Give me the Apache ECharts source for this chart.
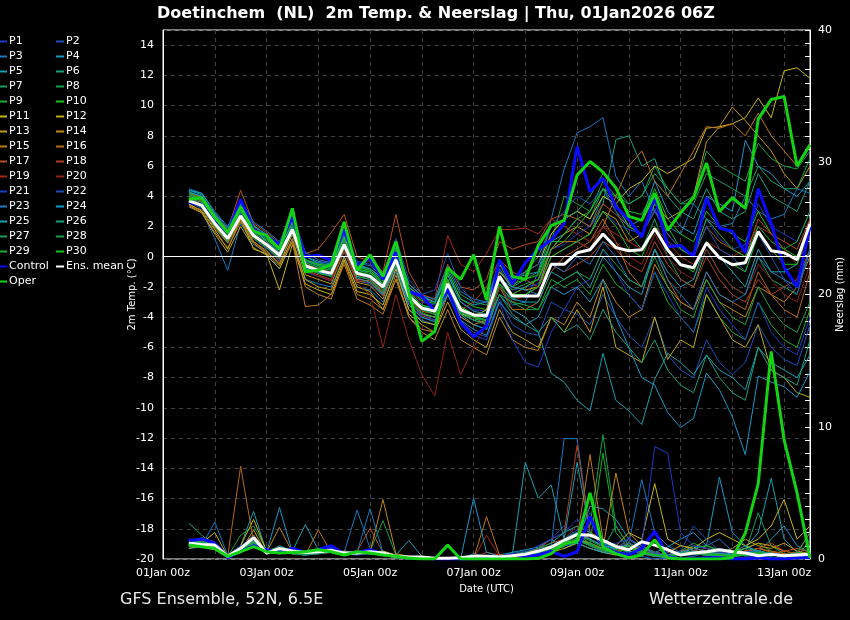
<!DOCTYPE html>
<html><head><meta charset="utf-8">
<script src="https://cdn.jsdelivr.net/npm/echarts@6/dist/echarts.min.js"></script>
<style>html,body{margin:0;padding:0;background:#000;}#c{width:850px;height:620px;}</style>
</head><body><div id="c"></div>
<script>
const times = ['01Jan 00z','01Jan 06z','01Jan 12z','01Jan 18z','02Jan 00z','02Jan 06z','02Jan 12z','02Jan 18z','03Jan 00z','03Jan 06z','03Jan 12z','03Jan 18z','04Jan 00z','04Jan 06z','04Jan 12z','04Jan 18z','05Jan 00z','05Jan 06z','05Jan 12z','05Jan 18z','06Jan 00z','06Jan 06z','06Jan 12z','06Jan 18z','07Jan 00z','07Jan 06z','07Jan 12z','07Jan 18z','08Jan 00z','08Jan 06z','08Jan 12z','08Jan 18z','09Jan 00z','09Jan 06z','09Jan 12z','09Jan 18z','10Jan 00z','10Jan 06z','10Jan 12z','10Jan 18z','11Jan 00z','11Jan 06z','11Jan 12z','11Jan 18z','12Jan 00z','12Jan 06z','12Jan 12z','12Jan 18z','13Jan 00z','13Jan 06z','13Jan 12z'];
const memberNames = ['P1','P2','P3','P4','P5','P6','P7','P8','P9','P10','P11','P12','P13','P14','P15','P16','P17','P18','P19','P20','P21','P22','P23','P24','P25','P26','P27','P28','P29','P30'];
const memberColors = ['#1c3cc8','#1a50b8','#1878c0','#1898c8','#18a0b0','#18a080','#18a060','#18a048','#18b030','#18c018','#c8b818','#c0a818','#c09818','#c08818','#c07818','#b86818','#b85018','#b04020','#a82818','#902018','#1c3cc8','#1a50b8','#1878c0','#1898c8','#18a0b0','#18a080','#18a060','#18a048','#18b030','#18c018'];

// 2m temperature (°C), 6-hourly from 01Jan 12z to 13Jan 12z
const tControl = [3.6,3.4,2.4,1.6,3.8,1.8,1.35,0.8,2.6,0.0,0.1,-0.25,1.8,-0.6, -0.1,-1.5,0.3,-2.3,-2.6,-3.6,-2.1,-4.4,-5.3,-4.6,-0.2,-1.8,-0.4,0.5,1.1,2.2, 7.3,4.3,5.2,3.3,2.45,1.3,4.0,0.65,0.75,0.0,3.9,1.9,1.67,0.26,4.5,2.2,-0.7,-2.0,2.0];
const tOper = [3.8,3.9,2.6,1.6,3.3,1.7,1.4,0.5,3.2,-1.0,-0.9,-0.5,2.3,-0.9, 0.13,-1.3,1.0,-2.4,-5.6,-4.95,-0.75,-1.5,0.13,-2.85,2.0,-1.3,-1.5,0.75,2.05,2.4, 5.4,6.3,5.6,4.55,2.67,2.4,4.2,1.75,2.9,3.9,6.2,3.0,3.9,3.2,9.1,10.4,10.6,6.0,7.4];
const tMean = [3.7,3.4,2.2,1.2,2.7,1.4,0.8,0.1,1.8,-0.6,-0.9,-1.1,0.8,-1.1, -1.3,-2.0,-0.2,-2.6,-3.4,-3.6,-1.8,-3.5,-3.85,-3.9,-1.3,-2.6,-2.6,-2.6,-0.5,-0.5, 0.26,0.46,1.5,0.6,0.4,0.46,1.85,0.46,-0.53,-0.73,0.9,-0.07,-0.53,-0.4,1.67,0.4,0.26,-0.2,2.18];
const tP1 = [3.9,3.6,2.5,1.5,3.2,1.6,1.0,0.3,2.0,-0.3,-0.5,-0.8,1.2,-0.8, -1.0,-1.8,0.2,-2.2,-3.0,-3.2,-1.2,-3.0,-3.5,-3.6,-0.8,-2.2,-2.0,-1.8,0.5,0.8, 1.5,2.0,3.0,2.2,1.8,1.5,3.2,1.0,0.5,0.2,2.5,1.2,0.5,0.8,3.5,2.0,1.5,1.0,3.0];
const tP2 = [3.6,3.2,2.0,0.9,2.5,1.2,0.5,-0.3,1.5,-1.0,-1.3,-1.6,0.3,-1.6, -1.8,-2.6,-0.8,-3.2,-4.0,-4.3,-2.5,-4.3,-5.0,-5.3,-2.8,-4.5,-5.0,-5.2,-3.0,-3.5, -3.8,-4.5,-2.5,-4.0,-5.2,-6.0,-4.0,-6.5,-7.5,-8.0,-5.5,-7.0,-7.8,-7.0,-4.5,-6.0,-6.8,-7.2,-4.5];
const tP3 = [3.5,3.0,1.2,-0.9,2.2,0.8,0.3,-0.8,1.2,-1.5,-1.8,-2.0,0.0,-2.0, -2.2,-3.0,-1.0,-3.5,-4.2,-4.5,-2.2,-4.0,-4.5,-4.8,-2.0,-3.2,-3.0,-1.0,2.5,5.8, 8.2,8.6,9.2,5.3,4.0,5.0,3.0,2.0,1.5,3.5,2.5,2.0,2.2,4.0,3.0,2.5,2.8,4.5,4.2];
const tP4 = [4.2,4.0,2.8,1.8,3.5,2.0,1.5,0.8,2.5,0.0,-0.3,-0.5,1.5,-0.5, -0.8,-1.5,0.3,-2.0,-2.8,-3.0,-1.0,-2.8,-3.2,-3.0,-0.5,-1.5,-1.2,-1.0,1.0,1.5, 2.5,2.0,4.0,3.5,2.0,2.5,5.0,3.0,2.0,1.5,4.0,3.5,3.0,7.7,6.0,5.5,4.5,4.0,5.0];
const tP5 = [4.4,4.1,2.6,1.4,3.0,1.5,0.6,-0.2,1.6,-0.8,-1.0,-1.3,0.5,-1.3, -1.5,-2.5,-0.5,-3.0,-3.8,-4.0,-2.2,-3.8,-4.5,-4.8,-2.5,-3.5,-4.0,-5.0,-7.7,-8.3, -9.5,-10.2,-6.4,-9.5,-10.2,-11.1,-8.1,-6.4,-7.0,-7.8,-6.5,-7.5,-8.0,-8.8,-6.0,-7.0,-7.5,-8.0,-6.5];
const tP6 = [4.0,3.8,2.4,1.0,2.6,1.3,0.7,-0.1,1.9,-0.7,-1.1,-1.2,0.9,-1.2, -1.4,-2.2,-0.3,-2.8,-3.5,-3.8,-2.0,-3.7,-4.2,-4.4,-2.0,-2.8,-2.5,-2.0,0.0,0.5, 1.0,1.5,3.5,7.75,8.0,6.0,6.5,4.0,3.0,2.5,4.5,3.0,2.5,3.0,5.5,4.0,3.5,3.0,5.0];
const tP7 = [4.3,3.9,2.7,1.6,3.4,1.8,1.2,0.4,2.3,-0.2,-0.6,-0.7,1.4,-0.6, -0.9,-1.7,0.4,-2.0,-2.7,-3.0,-0.8,-2.5,-3.0,-3.2,-0.5,-2.0,-1.5,-1.0,1.5,2.5, 3.0,2.5,4.5,3.0,1.5,0.5,2.5,0.0,-1.5,-2.0,0.5,-1.0,-2.0,-2.5,0.0,-1.5,-2.0,-2.5,0.5];
const tP8 = [3.8,3.5,2.3,1.3,2.9,1.5,0.9,0.2,2.1,-0.5,-0.8,-1.0,1.0,-1.0, -1.2,-1.9,0.0,-2.5,-3.3,-3.5,-1.6,-3.3,-3.8,-3.9,-1.5,-2.2,-1.8,-1.5,1.0,4.0, 3.5,3.0,5.0,4.0,3.5,4.0,6.0,4.5,3.5,4.0,7.0,6.0,5.5,5.0,7.5,6.5,6.0,5.8,7.0];
const tP9 = [3.7,3.3,2.1,1.1,2.8,1.3,0.9,0.3,2.0,-0.4,-0.7,-0.9,1.1,-0.9, -1.1,-2.0,-0.1,-2.7,-3.4,-3.7,-1.5,-3.4,-3.9,-4.2,-1.8,-3.0,-3.2,-3.5,-1.5,-2.0, -1.5,-2.5,-0.5,-1.8,-2.5,-3.5,-1.0,-3.0,-4.0,-5.0,-2.5,-4.0,-5.0,-5.5,-3.0,-4.5,-5.5,-6.0,-3.5];
const tP10 = [3.9,3.7,2.5,1.4,3.1,1.7,1.1,0.5,2.2,-0.2,-0.5,-0.6,1.3,-0.7, -0.9,-1.6,0.5,-2.1,-2.9,-3.1,-1.0,-2.8,-3.3,-3.5,-1.0,-1.8,-1.5,-1.2,1.0,1.0, 2.0,3.0,4.5,4.0,3.0,2.8,4.5,2.5,1.5,1.0,3.0,2.0,1.5,1.0,3.0,1.5,0.5,0.0,2.0];
const tP11 = [3.5,3.0,1.8,0.5,2.5,0.5,0.2,-2.2,0.8,-1.8,-2.2,-2.5,-0.2,-2.3, -2.5,-3.2,-0.8,-3.5,-4.3,-4.5,-2.0,-3.8,-4.0,-3.5,-0.5,-1.5,-1.0,-0.5,1.5,2.5, 3.0,2.5,4.0,3.5,4.5,5.0,6.0,5.5,6.0,6.5,8.5,8.6,8.8,9.2,10.5,9.2,12.3,12.5,11.8];
const tP12 = [3.4,2.9,1.5,0.3,2.0,0.6,0.1,-0.8,1.0,-1.5,-2.0,-2.2,0.0,-2.0, -2.3,-3.5,-1.5,-3.8,-4.5,-5.0,-3.0,-4.8,-5.5,-6.0,-3.5,-5.0,-5.5,-6.0,-4.0,-5.0, -3.5,-5.0,-2.0,-6.0,-6.5,-7.0,-4.0,-6.8,-5.5,-6.0,-2.5,-4.0,-5.5,-6.0,-4.5,-7.5,-8.0,-9.0,-9.3];
const tP13 = [3.6,3.3,2.0,1.0,2.6,1.0,0.4,-0.5,1.5,-1.2,-1.5,-1.8,0.4,-1.7, -1.9,-2.8,-0.5,-3.0,-3.8,-4.0,-1.8,-3.5,-3.8,-3.8,-1.0,-2.0,-2.2,-2.0,0.5,1.5, 2.0,1.5,3.0,2.5,1.0,1.5,3.5,2.5,3.0,4.0,7.6,8.6,9.9,9.0,8.0,7.0,5.5,4.5,6.0];
const tP14 = [3.3,2.9,1.6,0.6,2.3,0.9,0.2,-0.6,1.2,-2.0,-2.5,-2.8,-0.3,-2.5, -2.8,-3.5,-1.2,-4.0,-5.0,-5.5,-3.5,-5.5,-6.0,-6.5,-4.0,-5.5,-6.0,-6.2,-4.0,-4.5, -3.0,-4.0,-1.5,-3.0,-4.0,-3.5,-0.5,-2.0,-3.0,-3.5,-1.5,-3.0,-3.5,-4.0,-2.0,-2.5,-3.0,-2.0,0.0];
const tP15 = [3.4,3.1,1.9,0.9,2.4,1.0,0.3,-0.4,1.0,-3.3,-3.2,-2.5,-0.5,-2.8, -3.2,-3.8,-1.5,-4.0,-4.8,-5.0,-2.5,-4.0,-4.5,-4.2,-1.5,-2.5,-2.0,-1.5,0.5,1.0, 1.0,0.5,2.0,4.0,6.0,7.0,5.0,4.0,5.5,7.0,8.6,8.5,8.8,8.0,9.5,8.0,7.0,6.0,7.5];
const tP16 = [4.1,3.7,2.6,1.5,3.6,2.0,1.3,0.6,2.4,-0.6,-1.0,-1.2,1.0,-1.5, -1.6,-2.4,-0.4,-2.8,-3.6,-3.8,-1.6,-3.6,-4.0,-4.5,-2.0,-3.5,-3.5,-3.0,-1.0,0.0, 0.5,1.0,2.5,1.0,-1.0,-2.0,0.5,-1.5,-3.0,-3.5,-1.0,-2.5,-3.0,-3.5,-1.0,-2.5,-3.5,-4.0,-1.0];
const tP17 = [4.2,3.9,2.8,1.8,4.4,2.2,1.6,0.9,2.7,0.2,0.5,1.6,2.8,0.0, -0.3,-1.0,2.8,-1.0,-2.5,-2.8,-0.5,-2.0,-2.2,-1.5,1.0,0.5,0.8,1.0,2.5,2.8, 2.5,2.0,3.5,2.8,2.0,1.5,3.0,1.5,0.5,0.0,2.0,1.0,0.5,0.0,2.5,1.5,1.0,0.5,2.5];
const tP18 = [3.9,3.6,2.4,1.2,3.0,1.4,0.7,0.0,1.7,-0.9,-1.2,-1.5,0.6,-1.6, -1.7,-2.6,-0.6,-3.0,-3.9,-4.2,-2.0,-3.5,-3.0,-2.0,-0.2,-1.0,-1.5,-2.0,-0.5,-1.0, -0.5,0.0,1.0,0.5,-0.5,-1.0,1.0,-0.5,-1.5,-2.0,0.0,-1.5,-2.5,-3.0,-1.5,-2.5,-2.0,-1.5,0.5];
const tP19 = [4.0,3.7,2.5,1.3,3.3,1.6,0.9,0.2,1.9,-0.5,-0.8,-1.0,1.0,-1.2, -1.5,-2.2,0.0,-2.3,-3.0,-2.8,1.4,-0.5,-1.0,0.2,1.8,1.8,1.9,1.5,2.5,2.0, 1.5,1.0,2.0,1.5,1.0,0.5,2.0,1.0,0.0,-0.5,1.0,0.5,0.0,0.5,2.0,1.5,0.5,-0.5,1.5];
const tP20 = [3.8,3.5,2.3,1.1,2.7,1.2,0.6,-0.2,1.6,-0.9,-1.3,-1.6,0.4,-1.8, -2.5,-6.0,-2.5,-5.5,-7.8,-9.2,-5.0,-7.8,-6.0,-4.5,-2.0,-3.0,-2.5,-2.0,0.0,0.5, 1.0,0.5,2.0,1.0,0.0,-0.5,1.5,0.0,-1.0,-1.5,0.5,-1.0,-2.0,-2.5,-0.5,-1.5,-2.5,-3.0,-0.5];
const tP21 = [3.6,3.4,2.2,1.1,2.9,1.4,0.7,0.0,1.7,-0.7,-1.0,-1.2,0.7,-1.3, -1.5,-2.3,-0.4,-3.0,-3.8,-4.2,-2.2,-4.2,-5.2,-5.5,-3.0,-5.5,-7.0,-7.3,-5.0,-3.5, -2.0,-1.5,0.5,-1.0,-2.5,-3.5,-1.0,-2.5,-4.0,-5.0,-2.0,-3.5,-4.5,-5.5,-3.0,-5.0,-6.0,-6.5,-4.0];
const tP22 = [3.7,3.5,2.4,1.2,3.1,1.6,1.0,0.4,2.1,-0.2,-0.4,-0.3,1.4,-0.3, -0.5,-1.2,1.2,-1.5,-2.5,-2.2,0.2,-2.0,-3.0,-3.0,-0.2,-1.5,-1.0,-0.5,2.0,3.0, 4.0,3.5,4.5,3.0,2.0,1.5,3.0,1.5,0.5,0.0,2.0,0.5,0.0,-1.0,1.5,0.0,-1.5,-2.5,0.5];
const tP23 = [4.5,4.2,3.0,2.0,3.8,2.3,1.7,1.0,2.8,0.3,-0.2,-0.4,1.6,-0.4, -0.6,-1.3,0.8,-1.8,-2.6,-2.8,-0.6,-2.3,-2.8,-3.0,-0.8,-2.0,-2.2,-2.5,-0.5,-1.0, 0.0,-0.5,1.0,0.0,-1.5,-2.0,0.5,-1.5,-2.5,-3.5,-1.0,-2.5,-3.0,-2.5,0.0,-1.0,-1.5,-2.0,0.5];
const tP24 = [4.3,4.0,2.8,1.7,3.2,1.9,1.0,0.2,2.0,-0.6,-1.0,-1.3,0.8,-1.4, -1.7,-2.5,-0.6,-3.2,-4.0,-4.3,-2.5,-4.2,-4.8,-5.2,-3.0,-4.0,-4.5,-4.0,-2.0,-2.5, -2.0,-3.0,-1.5,-4.0,-6.0,-8.0,-8.5,-10.3,-11.3,-10.7,-7.7,-8.8,-10.6,-13.1,-7.9,-8.3,-8.6,-9.3,-7.6];
const tP25 = [4.4,4.2,2.9,1.9,3.6,2.1,1.4,0.7,2.6,0.0,-0.4,-0.6,1.3,-0.6, -0.8,-1.4,0.6,-1.8,-2.6,-3.0,-1.2,-3.0,-3.6,-3.8,-1.5,-2.8,-3.0,-3.0,-1.0,-1.5, -1.0,-2.0,0.0,-1.0,-2.0,-2.5,0.5,-1.0,-2.0,-1.5,1.0,0.0,-1.0,-2.0,0.5,-1.0,-1.0,-0.5,2.0];
const tP26 = [4.1,3.8,2.5,1.5,3.0,1.7,1.2,0.5,2.3,-0.3,-0.6,-0.8,1.2,-0.9, -1.0,-1.9,0.1,-2.4,-3.2,-3.5,-1.8,-3.6,-4.2,-4.5,-2.5,-3.8,-4.5,-5.0,-4.0,-5.0, -4.5,-5.5,-3.5,-5.0,-6.0,-7.0,-5.5,-7.5,-8.5,-9.0,-6.5,-8.0,-9.0,-9.5,-6.0,-7.5,-8.0,-8.5,-5.5];
const tP27 = [3.8,3.6,2.2,1.2,2.7,1.4,0.8,0.1,1.8,-0.6,-0.9,-1.1,0.8,-1.1, -1.3,-2.1,-0.2,-2.7,-3.5,-3.8,-2.0,-3.8,-4.2,-4.0,-1.5,-2.0,-1.0,0.0,2.0,2.5, 3.0,4.0,5.5,4.5,3.5,4.0,5.5,4.5,3.5,3.5,5.5,5.0,4.5,4.0,6.0,5.0,4.5,4.5,6.5];
const tP28 = [4.0,3.7,2.4,1.4,3.0,1.6,1.0,0.3,2.0,-0.4,-0.7,-0.9,1.0,-1.0, -1.2,-2.0,0.0,-2.5,-3.4,-3.6,-1.5,-3.5,-4.0,-4.3,-2.5,-3.0,-3.5,-3.5,-2.0,-1.5, -1.0,-1.5,0.5,-0.5,-1.5,-2.0,0.0,-2.0,-3.5,-4.0,-1.5,-3.0,-4.0,-4.5,-2.0,-3.5,-4.5,-5.0,-3.0];
const tP29 = [3.6,3.3,2.0,1.0,2.6,1.2,0.6,-0.1,1.6,-0.8,-1.1,-1.3,0.6,-1.3, -1.5,-2.3,-0.5,-2.9,-3.7,-4.0,-2.0,-3.7,-4.0,-4.2,-1.8,-2.5,-2.0,-1.5,0.5,1.5, 2.5,3.0,4.5,3.5,2.0,1.5,3.5,2.0,0.5,0.0,2.5,1.5,0.5,0.0,2.0,1.0,0.5,1.0,3.0];
const tP30 = [4.2,3.8,2.6,1.6,3.3,1.8,1.2,0.5,2.3,-0.2,-0.5,-0.7,1.3,-0.8, -1.0,-1.8,0.2,-2.3,-3.2,-3.4,-1.5,-3.3,-3.8,-4.0,-1.5,-2.5,-2.5,-2.0,0.0,0.5, 1.0,1.5,3.0,2.0,0.5,0.0,2.0,0.5,-0.5,-1.0,1.0,0.0,-0.5,-1.0,1.5,0.5,-0.5,-0.5,2.0];

// 6-hourly precipitation (mm)
const rControl = [1.4,1.5,1.2,0.1,0.6,1.0,0.7,0.5,0.8,0.5,0.7,1.0,0.4,0.5,0.7,0.4, 0.2,0.1,0.1,0,0,0,0,0.1,0.1,0.3,0.2,0.3, 0.6,0.2,0.55,3.2,0.9,0.5,0.3,0.8,2.1,0.2,0,0,0.1,0.1,0,0,0.1,0,0,0.1,0.1];
const rOper = [1.05,0.93,0.8,0.2,0.55,0.93,0.55,0.45,0.5,0.55,0.7,0.55,0.3,0.55,0.45,0.3, 0.2,0.07,0,0,1.05,0,0,0,0,0,0,0.05, 0.4,1.2,1.3,5.0,0.9,0.4,0.1,0.3,1.45,0.1,0,0,0,0,0.1,1.95,5.7,15.7,9.0,5.0,0.1];
const rMean = [1.2,1.1,1.05,0.2,0.8,1.6,0.45,0.8,0.6,0.5,0.55,0.65,0.45,0.45,0.55,0.45, 0.2,0.15,0.15,0.05,0.05,0.1,0.2,0.2,0.15,0.25,0.35,0.6, 0.9,1.4,1.85,1.8,1.4,0.95,0.7,1.3,1.05,0.7,0.3,0.45,0.55,0.7,0.55,0.45,0.25,0.35,0.25,0.3,0.35];
const rP1 = [1.0,1.2,0.8,0.1,0.6,1.2,0.5,0.6,0.4,0.3,0.5,0.8,0.3,0.4,0.6,0.5, 0.2,0.1,0,0,0,0,0.1,0.2,0.1,0.3,0.5,0.8, 1.5,2.5,1.8,3.5,1.2,0.6,0.3,0.8,0.5,0.3,0,0.2,0.5,0.3,0.2,0.1,0.2,0.4,0.3,0.2,0.1];
const rP2 = [1.5,1.3,1.0,0.2,0.8,1.8,0.6,0.7,0.5,0.4,0.6,0.5,0.4,0.3,0.4,0.3, 0.1,0,0,0,0,0,0,0.1,0.2,0.4,0.6,0.5, 0.8,1.5,2.2,1.0,0.5,0.3,0.5,0.2,0.0,0.1,0.3,0.2,0.5,0.8,0.6,0.3,0.2,0.1,0.1,0.0,0.1];
const rP3 = [1.2,1.0,2.8,0.3,0.9,1.5,0.4,0.8,0.6,0.5,0.5,0.6,0.5,3.7,0.8,0.4, 0.2,0.1,0,0,0,0,0,0,0.1,0.2,0.3,0.5, 1.0,9.1,9.1,2.0,1.0,0.5,1.2,6.0,2.0,1.0,0.5,0.8,1.0,1.5,0.6,0.2,0.3,0.5,0.3,0.2,0.3];
const rP4 = [0.8,0.9,0.7,0.1,0.5,1.0,0.4,0.5,0.5,0.3,0.4,0.7,0.3,0.5,0.4,0.3, 0.1,0.1,0,0,0,0.1,0.2,0.1,0.3,0.5,0.7,0.9, 1.5,0.8,1.2,4.0,3.8,3.0,1.5,0.8,0.5,0.9,1.5,2.0,1.0,6.2,2.0,1.0,0.5,1.5,2.5,1.0,0.5];
const rP5 = [1.3,1.6,1.2,0.3,1.0,3.6,0.5,1.0,0.6,2.6,0.7,0.5,0.4,0.5,0.6,0.4, 0.3,1.4,0.2,0,0,0,0.4,0.2,0.1,0.3,7.3,4.6, 5.6,1.5,7.3,2.0,1.0,0.5,0.8,0.6,0.4,0.2,0.5,1.0,0.8,0.6,0.5,0.8,2.0,6.1,1.5,0.5,0.4];
const rP6 = [1.0,1.1,0.9,0.2,0.7,1.3,0.6,0.5,0.4,0.5,0.6,0.9,0.4,0.6,0.5,0.6, 0.2,0.1,0.1,0,0,0,0,0,0.1,0.1,0.3,0.4, 0.6,1.0,1.5,1.2,0.8,2.5,1.0,0.5,0.2,0.3,0.6,0.4,0.3,0.2,0.4,0.6,0.3,0.2,0.4,0.2,0.1];
const rP7 = [2.7,1.8,1.0,0.2,0.7,1.2,0.5,0.6,0.5,0.4,0.5,0.6,0.4,0.4,0.5,0.3, 0.1,0,0,0,0,0,0.1,0.1,0.2,0.3,0.5,0.6, 0.8,1.2,1.6,1.0,0.6,0.8,1.2,0.5,0.3,0.2,0.5,0.8,1.0,0.6,0.4,0.5,3.5,1.0,0.4,0.2,0.3];
const rP8 = [1.1,1.3,1.1,0.2,1.8,2.5,0.7,0.8,0.6,0.5,0.6,0.7,0.5,0.4,0.6,2.9, 0.3,0.2,0.1,0,0,0,0,0,0.1,0.2,0.4,0.8, 1.0,1.5,2.0,2.5,9.4,2.5,1.0,0.8,0.5,0.3,0.6,1.2,0.8,0.5,0.3,0.4,0.6,0.4,0.3,0.5,0.4];
const rP9 = [0.9,1.0,0.8,0.1,0.6,1.5,0.4,0.5,0.4,0.3,0.5,0.6,0.3,0.4,0.5,0.4, 0.1,0,0,0,0,0,0,0.1,0.1,0.2,0.5,0.6, 0.8,1.0,1.5,1.2,8.0,2.0,0.8,0.6,0.4,0.3,0.5,0.8,1.0,0.7,0.5,0.8,1.2,0.6,0.4,0.3,0.2];
const rP10 = [1.2,1.4,1.0,0.2,0.8,1.6,0.5,0.7,0.5,0.4,0.6,0.6,0.4,0.5,0.6,0.5, 0.2,0.1,0,0,0,0,0,0,0.1,0.2,0.3,0.5, 0.8,1.5,2.0,1.5,1.0,0.8,1.2,0.6,0.3,0.2,0.4,0.5,0.4,0.3,0.2,0.3,0.4,0.3,0.2,0.1,1.5];
const rP11 = [1.0,1.2,2.0,0.2,1.0,3.0,0.6,0.8,0.5,0.6,0.7,0.5,0.6,0.5,0.5,0.6, 0.3,0.2,0.1,0,0,0,0,0,0.1,0.2,0.4,0.5, 0.8,1.0,1.5,2.0,1.5,1.0,2.0,1.5,5.7,1.5,1.0,0.8,1.5,2.0,1.5,1.0,1.5,2.5,4.5,1.5,2.5];
const rP12 = [0.8,1.0,0.9,0.1,0.6,2.2,0.4,0.5,0.4,0.5,0.4,0.5,0.3,0.4,0.5,0.4, 0.1,0,0,0,0,0,0,0,0.1,0.1,0.2,0.3, 0.5,0.8,1.2,0.8,0.5,0.3,1.2,0.6,0.2,0.5,1.0,0.8,0.6,0.3,0.5,0.8,1.2,1.0,0.6,0.4,0.3];
const rP13 = [1.4,1.5,1.3,0.3,0.9,1.8,0.6,0.7,0.6,0.5,0.8,0.7,0.5,0.4,0.5,0.5, 0.2,0.1,0,0,0,0,0.1,0.2,0.3,0.2,0.4,0.6, 1.0,1.2,1.5,1.0,0.6,0.5,0.8,0.5,0.3,0.2,0.5,0.8,0.6,0.4,0.8,1.5,1.0,0.8,1.2,0.6,0.4];
const rP14 = [1.1,1.0,0.8,0.2,0.7,1.4,0.5,2.4,0.5,0.4,0.5,0.6,0.4,0.5,0.5,4.5, 0.4,0.2,0.1,0,0,0,0,0.1,0.2,0.3,0.5,0.6, 0.8,1.0,1.5,1.2,0.8,6.5,2.0,1.0,0.5,0.3,0.5,0.6,0.4,0.3,0.4,0.5,0.6,0.4,0.3,0.2,0.3];
const rP15 = [1.0,0.9,0.7,0.1,0.5,1.1,0.4,0.6,0.4,0.3,2.2,0.5,0.3,0.4,0.4,0.3, 0.1,0,0,0,0,0,0,3.2,0.3,0.2,0.3,0.5, 0.6,1.0,1.5,7.9,1.5,0.8,0.6,0.4,0.2,0.3,0.5,0.4,0.3,0.2,0.4,0.6,0.8,0.5,0.3,0.2,0.1];
const rP16 = [1.2,1.1,0.9,0.2,7.0,1.3,0.5,0.6,0.5,0.4,0.5,0.6,0.4,0.5,0.5,0.4, 0.2,0.1,0,0,0,0,0,0.1,0.1,0.2,0.4,0.5, 0.8,1.2,1.8,1.5,1.0,0.8,1.5,1.0,0.5,0.3,0.6,0.8,0.6,0.4,0.3,0.5,0.8,0.6,0.4,0.3,0.2];
const rP17 = [1.3,1.2,1.0,0.2,0.8,1.5,0.5,0.7,0.6,0.5,0.6,0.7,0.5,0.6,2.3,0.5, 0.2,0.1,0,0,0,0,0,0.1,0.2,0.3,0.5,0.8, 1.2,1.5,2.0,1.5,1.0,0.8,1.0,0.6,0.3,0.2,0.4,0.6,0.5,0.4,0.3,0.4,0.5,0.4,0.6,0.8,0.5];
const rP18 = [1.5,1.4,1.2,0.3,0.9,1.6,0.6,0.8,0.7,0.5,0.7,0.8,0.5,0.6,0.7,0.5, 0.2,0.1,0.1,0,0,0,0.1,0.5,0.3,0.2,0.4,0.8, 1.5,2.0,8.6,2.0,1.0,0.6,0.8,0.5,0.3,0.2,0.5,0.6,0.8,0.5,0.4,0.6,0.8,1.2,0.6,0.4,2.0];
const rP19 = [1.2,1.1,0.9,0.2,0.7,1.2,0.4,0.6,0.5,0.4,0.5,0.5,0.4,0.5,0.6,0.4, 0.1,0,0,0,0,0,0,1.8,0.2,0.2,0.3,0.5, 0.8,1.2,1.5,1.0,0.6,0.5,0.8,0.5,0.3,0.2,0.4,0.5,0.4,0.3,0.3,0.4,0.5,0.4,0.3,0.2,0.2];
const rP20 = [1.0,1.3,1.0,0.2,0.8,1.4,0.5,0.7,0.5,0.4,0.6,0.6,0.4,0.4,0.5,0.4, 0.2,0.1,0,0,0,0,0,0,0.1,0.2,0.3,0.6, 0.9,1.5,2.5,1.5,1.0,0.8,1.2,0.7,0.4,0.3,0.5,0.6,0.5,0.4,0.3,0.4,0.5,0.3,0.2,0.3,0.2];
const rP21 = [1.4,1.6,1.3,0.3,1.0,1.7,0.6,0.8,0.6,0.5,0.7,0.8,0.5,0.6,0.6,0.5, 0.2,0.1,0,0,0,0,0,0,0.1,0.2,0.5,1.0, 1.5,2.0,3.0,2.0,1.0,1.2,1.5,1.0,8.5,8.0,2.0,1.0,0.8,0.5,0.4,0.5,0.6,0.4,0.3,0.2,0.3];
const rP22 = [0.9,1.0,0.8,0.1,0.6,1.1,0.4,0.5,0.4,0.3,0.4,0.5,0.3,0.4,0.4,0.3, 0.1,0,0,0,0,0,0,0,0.1,0.1,0.3,0.5, 0.8,1.2,1.5,1.0,0.6,0.8,1.5,1.0,0.5,0.3,0.6,2.5,1.5,0.6,0.4,0.5,0.6,0.4,0.3,0.2,0.1];
const rP23 = [1.3,1.2,1.0,0.2,0.8,1.3,0.5,0.7,0.5,0.4,0.5,0.6,0.4,0.5,3.8,0.5, 0.2,0.1,0,0,0,0,0,0,0.1,0.2,0.4,0.6, 1.0,1.5,2.0,1.5,1.0,0.8,1.2,0.8,0.4,0.3,0.5,0.8,0.6,0.4,0.3,0.5,0.6,0.4,0.3,0.2,0.2];
const rP24 = [1.1,1.2,1.0,0.2,0.7,1.4,0.5,3.9,0.5,0.4,0.5,0.6,0.4,0.5,0.5,0.4, 0.2,0.1,0,0,0,0,4.6,0.5,0.2,0.2,0.4,0.6, 0.9,1.5,2.0,1.5,1.0,0.8,1.0,0.6,0.3,0.2,0.5,0.6,0.5,0.4,0.3,0.4,0.5,0.3,0.2,0.2,0.1];
const rP25 = [1.0,1.1,0.9,0.2,0.7,1.2,0.4,0.6,0.5,0.4,0.5,0.5,0.4,0.4,0.5,0.4, 0.1,0,0,0,0,0,0,0,0.1,0.2,0.3,0.5, 0.7,1.0,1.2,0.8,0.5,0.4,0.6,0.4,0.2,0.1,0.3,0.4,0.3,0.2,0.5,1.0,0.6,0.4,0.3,0.2,0.1];
const rP26 = [1.2,1.3,1.1,0.2,0.8,1.6,0.5,0.7,0.6,0.5,0.6,0.7,0.5,0.5,0.6,0.5, 0.2,0.1,0,0,0,0,0.1,0.2,0.2,0.3,0.5,0.8, 1.2,2.0,2.5,2.0,1.2,0.8,1.0,0.6,0.3,0.3,0.5,0.6,0.5,0.4,0.3,0.8,0.6,0.4,0.3,0.2,0.2];
const rP27 = [1.1,1.0,0.8,0.2,0.6,1.1,0.4,0.5,0.4,0.3,0.4,0.5,0.3,0.4,0.4,0.3, 0.1,0,0,0,0,0,0,0,0.1,0.2,0.3,0.4, 0.6,1.0,1.4,1.0,0.6,0.5,0.8,0.5,0.2,0.1,0.3,0.4,0.3,0.2,0.2,0.4,0.5,0.3,0.2,0.5,2.0];
const rP28 = [1.2,1.3,1.0,0.2,0.7,1.3,0.5,0.7,0.5,0.4,0.5,0.6,0.4,0.5,0.5,0.4, 0.1,0,0,0,0,0,0,0,0.1,0.2,0.3,0.5, 0.8,1.2,1.8,1.2,0.7,0.5,0.8,0.5,0.3,0.2,0.4,0.5,0.4,0.3,0.2,0.3,0.4,0.3,0.2,0.1,0.1];
const rP29 = [1.3,1.4,1.1,0.3,0.9,1.5,0.6,0.8,0.6,0.5,0.6,0.7,0.5,0.5,0.6,0.5, 0.2,0.1,0,0,0,0,0,0,0.1,0.2,0.4,0.6, 1.0,1.4,1.8,1.4,0.9,0.7,1.0,0.6,0.3,0.2,0.4,0.5,0.4,0.3,0.3,0.4,0.5,0.3,0.2,0.2,0.1];
const rP30 = [1.1,1.2,0.9,0.2,0.7,1.3,0.5,0.6,0.5,0.4,0.5,0.6,0.4,0.5,0.5,0.4, 0.1,0,0,0,0,0,0,0,0.1,0.1,0.3,0.5, 0.7,1.1,1.5,1.1,0.7,0.5,0.8,0.5,0.3,0.2,0.4,0.5,0.4,0.3,0.2,0.3,0.4,0.3,0.2,0.1,0.1];

const tMembers = [tP1,tP2,tP3,tP4,tP5,tP6,tP7,tP8,tP9,tP10,tP11,tP12,tP13,tP14,tP15,tP16,tP17,tP18,tP19,tP20,tP21,tP22,tP23,tP24,tP25,tP26,tP27,tP28,tP29,tP30];
const rMembers = [rP1,rP2,rP3,rP4,rP5,rP6,rP7,rP8,rP9,rP10,rP11,rP12,rP13,rP14,rP15,rP16,rP17,rP18,rP19,rP20,rP21,rP22,rP23,rP24,rP25,rP26,rP27,rP28,rP29,rP30];

const bad = [];
[tControl,tOper,tMean,rControl,rOper,rMean].concat(tMembers, rMembers).forEach((a,i)=>{ if(a.length!==49) bad.push(i+':'+a.length); });
if (bad.length) throw new Error('length mismatch ' + bad.join(','));

const pad = a => [null, null].concat(a);
const FONT = 'DejaVu Sans';
const series = [];
memberNames.forEach((n, i) => {
  const c = memberColors[i];
  series.push({ name: n, type: 'line', yAxisIndex: 0, data: pad(tMembers[i]), symbol: 'none', showSymbol: false, lineStyle: { width: 1, color: c }, itemStyle: { color: c }, z: 2, silent: true });
  series.push({ name: n, type: 'line', yAxisIndex: 1, data: pad(rMembers[i]), symbol: 'none', showSymbol: false, lineStyle: { width: 1, color: c }, itemStyle: { color: c }, z: 2, silent: true });
});
series.push({ name: 'zero', type: 'line', yAxisIndex: 0, data: [], z: 3, silent: true,
  markLine: { silent: true, symbol: 'none', label: { show: false }, animation: false,
    lineStyle: { color: '#ffffff', width: 1.2, type: 'solid' }, data: [{ yAxis: 0 }] } });
const main = [['Control', '#0a0aff', tControl, rControl], ['Ens. mean', '#ffffff', tMean, rMean], ['Oper', '#14d214', tOper, rOper]];
main.forEach(([n, c, t, r], k) => {
  series.push({ name: n, type: 'line', yAxisIndex: 0, data: pad(t), symbol: 'none', showSymbol: false, lineStyle: { width: 3, color: c }, itemStyle: { color: c }, z: 4 + k, silent: true });
  series.push({ name: n, type: 'line', yAxisIndex: 1, data: pad(r), symbol: 'none', showSymbol: false, lineStyle: { width: 3, color: c }, itemStyle: { color: c }, z: 4 + k, silent: true });
});

const leftNames = memberNames.filter((_, i) => i % 2 === 0).concat(['Control', 'Oper']);
const rightNames = memberNames.filter((_, i) => i % 2 === 1).concat(['Ens. mean']);
const legendBase = { orient: 'vertical', top: 35, icon: 'rect', itemWidth: 8, itemHeight: 2, itemGap: 2,
  selectedMode: false, textStyle: { color: '#ffffff', fontSize: 11, fontFamily: FONT, lineHeight: 13, padding: [0, 0, 0, -3] }, padding: 0 };

const chart = echarts.init(document.getElementById('c'), null, { renderer: 'canvas' });
chart.setOption({
  backgroundColor: '#000000',
  animation: false,
  textStyle: { fontFamily: FONT },
  title: [
    { text: 'Doetinchem  (NL)  2m Temp. & Neerslag | Thu, 01Jan2026 06Z', left: 152, top: 1,
      textStyle: { color: '#ffffff', fontSize: 16, fontWeight: 'bold', fontFamily: FONT } },
    { text: 'GFS Ensemble, 52N, 6.5E', left: 115, top: 587, textStyle: { color: '#e8e8e8', fontSize: 16, fontWeight: 'normal', fontFamily: FONT } },
    { text: 'Wetterzentrale.de', right: 52, top: 587, textStyle: { color: '#e8e8e8', fontSize: 16, fontWeight: 'normal', fontFamily: FONT } }
  ],
  legend: [
    Object.assign({}, legendBase, { left: -1, data: leftNames }),
    Object.assign({}, legendBase, { left: 56, data: rightNames })
  ],
  grid: { left: 163, right: 40, top: 30, bottom: 61, show: true, borderColor: '#ffffff', borderWidth: 1, backgroundColor: '#000000',
    containLabel: false, outerBoundsMode: 'none' },
  xAxis: {
    type: 'category', data: times, boundaryGap: false,
    name: 'Date (UTC)', nameLocation: 'middle', nameGap: 25, nameMoveOverlap: false,
    nameTextStyle: { color: '#ffffff', fontSize: 10, fontFamily: FONT },
    axisLine: { show: true, lineStyle: { color: '#ffffff', width: 1 } },
    axisTick: { show: false },
    axisLabel: { interval: 7, color: '#ffffff', fontSize: 11, margin: 9, fontFamily: FONT },
    splitLine: { show: true, interval: 3, lineStyle: { color: '#404040', type: [4, 4], width: 1 } }
  },
  yAxis: [
    { type: 'value', min: -20, max: 15, interval: 2, position: 'left',
      name: '2m Temp. (°C)', nameLocation: 'middle', nameGap: 26, nameRotate: 90, nameMoveOverlap: false,
      nameTextStyle: { color: '#ffffff', fontSize: 10, fontFamily: FONT },
      axisLine: { show: true, lineStyle: { color: '#ffffff' } }, axisTick: { show: false },
      axisLabel: { color: '#ffffff', fontSize: 11, margin: 9, showMaxLabel: false, fontFamily: FONT },
      splitLine: { show: true, lineStyle: { color: '#404040', type: [4, 4], width: 1 } } },
    { type: 'value', min: 0, max: 40, interval: 10, position: 'right',
      name: 'Neerslag (mm)', nameLocation: 'middle', nameGap: 25, nameRotate: 90, nameMoveOverlap: false,
      nameTextStyle: { color: '#ffffff', fontSize: 10, fontFamily: FONT },
      axisLine: { show: true, lineStyle: { color: '#ffffff' } },
      axisTick: { show: true, inside: true, length: 5, lineStyle: { color: '#ffffff' } },
      minorTick: { show: true, splitNumber: 10, length: 5, lineStyle: { color: '#ffffff' } },
      axisLabel: { color: '#ffffff', fontSize: 11, margin: 8, fontFamily: FONT },
      splitLine: { show: false } }
  ],
  series: series
});
</script>
</body></html>
